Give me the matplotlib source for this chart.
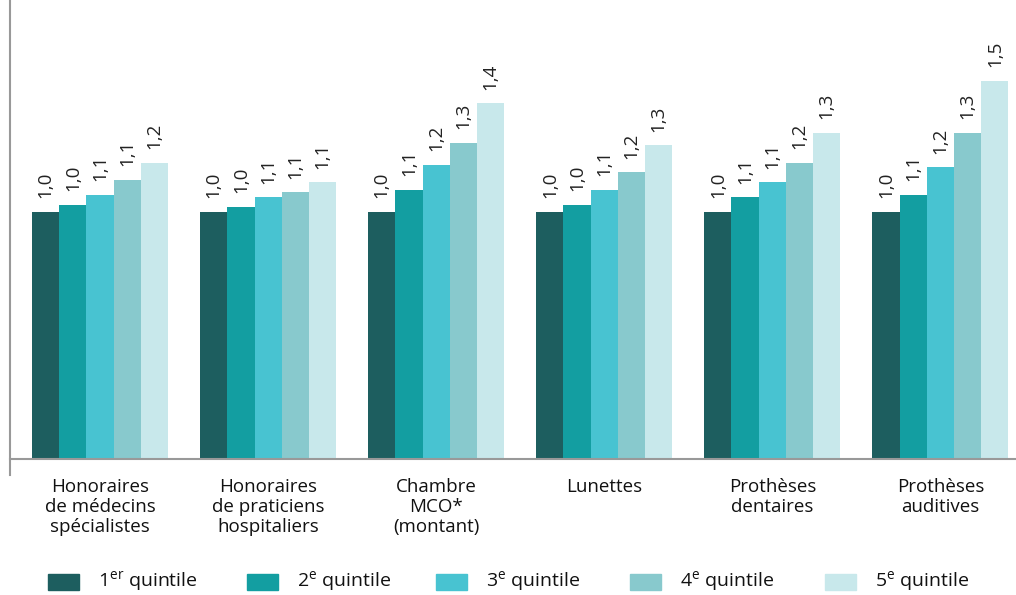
import numpy as np
import matplotlib as mpl
mpl.use('Agg')
import matplotlib.pyplot as plt
from matplotlib.patches import Rectangle
from matplotlib.lines import Line2D

plt.rcParams['font.family'] = ['Open Sans', 'DejaVu Sans']
plt.rcParams['mathtext.fontset'] = 'custom'
plt.rcParams['mathtext.rm'] = 'Open Sans'

# data (ratio to 1st quintile)
categories = ['Honoraires\nde médecins\nspécialistes',
              'Honoraires\nde praticiens\nhospitaliers',
              'Chambre\nMCO*\n(montant)',
              'Lunettes',
              'Prothèses\ndentaires',
              'Prothèses\nauditives']
q1 = [1.00, 1.00, 1.00, 1.00, 1.00, 1.00]
q2 = [1.03, 1.02, 1.09, 1.03, 1.06, 1.07]
q3 = [1.07, 1.06, 1.19, 1.09, 1.12, 1.18]
q4 = [1.13, 1.08, 1.28, 1.16, 1.20, 1.32]
q5 = [1.20, 1.12, 1.44, 1.27, 1.32, 1.53]
series_names = [r'1$^{\mathrm{er}}$ quintile', r'2$^{\mathrm{e}}$ quintile',
                r'3$^{\mathrm{e}}$ quintile', r'4$^{\mathrm{e}}$ quintile',
                r'5$^{\mathrm{e}}$ quintile']
colors = ['#1d5e5f', '#139ea1', '#48c3d1', '#88c9cd', '#c8e8eb']

series = [q1, q2, q3, q4, q5]

fig = plt.figure(figsize=(10.16, 5.95), dpi=100)
ax = fig.add_axes([10/1016, 136/595, 1006/1016, 459/595])

x = np.arange(len(categories))
w = 0.162
for i, vals in enumerate(series):
    pos = x + (i - 2) * w
    ax.bar(pos, vals, width=w, color=colors[i], linewidth=0)
    for p, v in zip(pos, vals):
        ax.text(p, v + 0.055, f'{v:.1f}'.replace('.', ','), rotation=90,
                ha='center', va='bottom', fontsize=13.5, color='#222222')

ax.set_xlim(-0.536, 5.45)
ax.set_ylim(0, 1.858)
ax.set_yticks([])
ax.set_xticks(x)
ax.set_xticklabels(categories, fontsize=13.5, linespacing=1.12, color='#111111')
ax.tick_params(axis='x', length=0, pad=14)
for s in ['top', 'right']:
    ax.spines[s].set_visible(False)
ax.spines['left'].set_visible(False)
ax.spines['bottom'].set_color('#999999')
ax.spines['bottom'].set_linewidth(1.5)

# left axis line, running a bit below the x axis
fig.add_artist(Line2D([10/1016, 10/1016], [(595-475)/595, 1.0],
                      color='#999999', linewidth=1.5))

# legend drawn by hand
leg_x = [48, 247, 436, 630, 825]
for i, name in enumerate(series_names):
    fig.add_artist(Rectangle((leg_x[i]/1016, (595-590)/595), 31/1016, 16/595,
                             color=colors[i], transform=fig.transFigure))
    fig.text((leg_x[i] + 50)/1016, (595-582)/595, name, fontsize=14,
             va='center', ha='left', color='#111111')

plt.savefig('out.png', dpi=100)
plt.close()
